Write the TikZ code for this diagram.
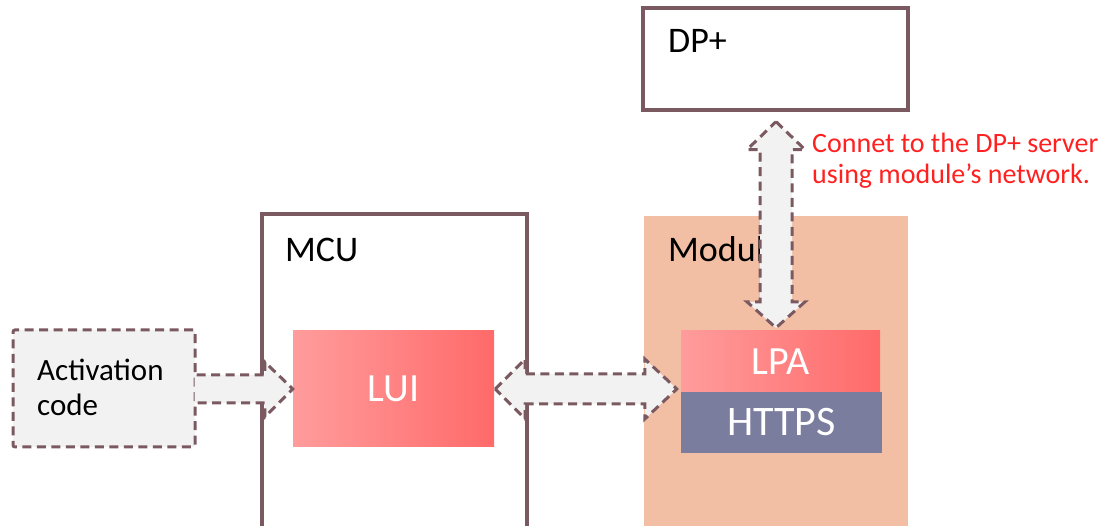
\documentclass[tikz,border=0pt]{standalone}
\usepackage{fontspec}
\setmainfont{Carlito}
\usetikzlibrary{calc}
\definecolor{bord}{HTML}{7A5A60}
\definecolor{modfill}{HTML}{F2BFA5}
\definecolor{luiL}{HTML}{FF9C9C}
\definecolor{luiR}{HTML}{FF6A6A}
\definecolor{httpsc}{HTML}{7B7D9E}
\definecolor{arrfill}{HTML}{F2F2F2}
\definecolor{redtxt}{HTML}{FF2020}
\begin{document}
\begin{tikzpicture}[x=1pt,y=-1pt,
  plainbox/.style={draw=bord, line width=3.3pt, fill=white, inner sep=0pt},
  gradbox/.style={left color=luiL, right color=luiR, inner sep=0pt, text=white, font=\fontsize{40}{46}\selectfont},
  lbl/.style={anchor=base west, inner sep=0pt, font=\fontsize{36}{42}\selectfont},
  arrowsty/.style={fill=arrfill, draw=bord, line width=3pt, dash pattern=on 9pt off 5.5pt, line join=miter}]
\useasboundingbox (0,0) rectangle (1104,526);
% boxes
\node[plainbox, minimum width=265pt, minimum height=102pt] (dp) at (775.5,59) {};
\node[plainbox, minimum width=265pt, minimum height=316pt] (mcu) at (394.5,372) {};
\node[fill=modfill, inner sep=0pt, minimum width=264pt, minimum height=314pt] (mod) at (776,373) {};
\node[gradbox, minimum width=201pt, minimum height=116pt] (lui) at (393.5,389) {LUI};
\node[gradbox, minimum width=199pt, minimum height=61pt] (lpa) at (780.5,361.5) {LPA};
\node[fill=httpsc, text=white, inner sep=0pt, minimum width=201pt, minimum height=61pt, font=\fontsize{42}{48}\selectfont] (https) at (781.5,422.5) {HTTPS};
\node[fill=arrfill, draw=bord, line width=3pt, dash pattern=on 9pt off 5.5pt, rounded corners=2pt, minimum width=182pt, minimum height=117pt, inner sep=0pt] (act) at (104,388.5) {};
% labels
\node[lbl] (dpl) at (668,53) {DP+};
\node[lbl] (mcul) at (285,262) {MCU};
\node[lbl] (modl) at (668,262) {Module};
\node[anchor=base west, inner sep=0pt, font=\fontsize{31}{36}\selectfont] (actl) at (37,381) {Activation};
\node[anchor=base west, inner sep=0pt, font=\fontsize{31}{36}\selectfont] (actl2) at (37,416) {code};
\node[anchor=base west, inner sep=0pt, text=redtxt, font=\fontsize{28}{32}\selectfont] (note1) at (812,153) {Connet to the DP+ server};
\node[anchor=base west, inner sep=0pt, text=redtxt, font=\fontsize{28}{32}\selectfont] (note2) at (812,184) {using module’s network.};
% single arrow: activation -> LUI
\coordinate (a1) at ($(act.east |- lui.west)+(-2,0)$);
\coordinate (a2) at (lui.west);
\path[fill=arrfill] ($(a1)+(0,-14)$) -- ($(a2)+(-28,-14)$) -- ($(a2)+(-28,-27)$) -- (a2) -- ($(a2)+(-28,28)$) -- ($(a2)+(-28,14)$) -- ($(a1)+(0,14)$) -- cycle;
\draw[arrowsty, fill=none] ($(a1)+(2,-14)$) -- ($(a2)+(-28,-14)$) -- ($(a2)+(-28,-27)$) -- (a2) -- ($(a2)+(-28,28)$) -- ($(a2)+(-28,14)$) -- ($(a1)+(2,14)$);
% double arrow: LUI <-> LPA
\coordinate (b1) at ($(lui.east)+(1,0)$);
\coordinate (b2) at ($(lpa.west |- lui.east)+(-4,0)$);
\draw[arrowsty] (b1) -- ($(b1)+(30,-30)$) -- ($(b1)+(30,-15)$) -- ($(b2)+(-32,-15)$) -- ($(b2)+(-32,-30)$) -- (b2) -- ($(b2)+(-32,30)$) -- ($(b2)+(-32,15)$) -- ($(b1)+(30,15)$) -- ($(b1)+(30,30)$) -- cycle;
% double arrow: DP+ <-> LPA
\coordinate (c1) at ($(dp.south)+(0.5,10)$);
\coordinate (c2) at ($(dp.south |- lpa.north)+(0.5,-3)$);
\draw[arrowsty] (c1) -- ($(c1)+(29,28)$) -- ($(c1)+(16,28)$) -- ($(c2)+(16,-26)$) -- ($(c2)+(29,-26)$) -- (c2) -- ($(c2)+(-29,-26)$) -- ($(c2)+(-16,-26)$) -- ($(c1)+(-16,28)$) -- ($(c1)+(-29,28)$) -- cycle;
\end{tikzpicture}
\end{document}
